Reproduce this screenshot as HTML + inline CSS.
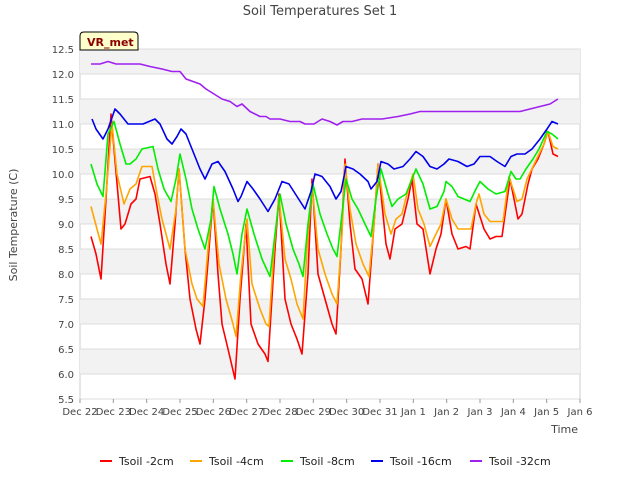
<!DOCTYPE html>
<html><head><meta charset="utf-8"><style>
body{margin:0;background:#fff;font-family:"Liberation Sans","DejaVu Sans",sans-serif;}
svg text{font-family:"DejaVu Sans","Liberation Sans",sans-serif;}
</style></head><body>
<svg id="chart" width="640" height="480" xmlns="http://www.w3.org/2000/svg">
<rect width="640" height="480" fill="#fff"/>
<text x="320" y="15" text-anchor="middle" font-size="13" fill="#444">Soil Temperatures Set 1</text>
<g id="bands"></g><g id="grid"></g><g id="series"></g><g id="axes"></g>
<text transform="translate(17,225) rotate(-90)" text-anchor="middle" font-size="11" fill="#444">Soil Temperature (C)</text>
<text x="578" y="433" text-anchor="end" font-size="11" fill="#444">Time</text>
<g>
<path d="M80,50 L80,36 Q80,32 84,32 L134,32 Q138,32 138,36 L138,50 Z" fill="#ffffcc" stroke="#000" stroke-width="1"/>
<text x="87" y="46" font-size="11" font-weight="bold" fill="#8b0000">VR_met</text>
</g>
<g id="legend"></g>
</svg>
<script>
const NS="http://www.w3.org/2000/svg";
const xTickLabels=["Dec 22","Dec 23","Dec 24","Dec 25","Dec 26","Dec 27","Dec 28","Dec 29","Dec 30","Dec 31","Jan 1","Jan 2","Jan 3","Jan 4","Jan 5","Jan 6"];
const yTicks=[5.5,6.0,6.5,7.0,7.5,8.0,8.5,9.0,9.5,10.0,10.5,11.0,11.5,12.0,12.5];
const seriesNames=["Tsoil -2cm","Tsoil -4cm","Tsoil -8cm","Tsoil -16cm","Tsoil -32cm"];
const seriesColors=["#ff0000","#ffa500","#00ee00","#0000ee","#a020f0"];
const t2=[.33,.48,.63,.78,.93,1.02,1.23,1.35,1.53,1.68,1.80,2.10,2.25,2.40,2.58,2.70,2.85,2.97,3.15,3.30,3.48,3.60,3.75,3.99,4.14,4.26,4.44,4.65,4.80,4.98,5.13,5.34,5.55,5.64,5.85,5.97,6.15,6.33,6.51,6.66,6.84,6.96,7.14,7.35,7.56,7.68,7.83,7.95,8.10,8.25,8.46,8.64,8.82,8.94,9.18,9.30,9.45,9.66,9.84,9.96,10.11,10.29,10.50,10.68,10.83,10.98,11.16,11.34,11.58,11.70,11.88,12.12,12.30,12.48,12.66,12.90,13.14,13.26,13.44,13.56,13.74,13.92,14.04,14.19,14.34];
const v2=[8.75,8.4,7.9,9.5,11.2,10.5,8.9,9.0,9.4,9.5,9.9,9.95,9.6,9.0,8.2,7.8,9.0,10.1,8.5,7.5,6.9,6.6,7.5,9.5,8.0,7.0,6.5,5.9,7.5,9.0,7.0,6.6,6.4,6.25,8.5,9.6,7.5,7.0,6.7,6.4,8.0,9.9,8.0,7.5,7.0,6.8,8.5,10.3,9.0,8.1,7.9,7.4,9.0,10.2,8.6,8.3,8.9,9.0,9.5,9.9,9.0,8.9,8.0,8.5,8.8,9.5,8.8,8.5,8.55,8.5,9.4,8.9,8.7,8.75,8.75,9.9,9.1,9.2,9.8,10.1,10.3,10.6,10.85,10.4,10.35];
const t4=[.33,.63,.78,.96,1.11,1.32,1.50,1.68,1.86,2.16,2.31,2.46,2.70,2.88,2.97,3.15,3.36,3.51,3.69,3.84,3.99,4.17,4.38,4.59,4.68,4.83,5.01,5.16,5.40,5.58,5.67,5.82,5.97,6.15,6.33,6.51,6.69,6.81,6.96,7.14,7.35,7.56,7.71,7.86,7.95,8.10,8.28,8.49,8.67,8.82,8.94,9.15,9.33,9.48,9.66,9.81,9.99,10.14,10.32,10.50,10.68,10.83,10.98,11.16,11.34,11.58,11.73,11.88,11.97,12.12,12.30,12.69,12.87,13.11,13.26,13.41,13.59,13.77,13.92,14.04,14.19,14.34];
const v4=[9.35,8.6,9.6,11.0,10.0,9.4,9.7,9.8,10.15,10.15,9.6,9.1,8.5,9.3,10.1,8.5,7.8,7.5,7.35,8.5,9.5,8.2,7.5,7.0,6.75,8.0,9.1,7.8,7.3,7.0,6.95,8.5,9.55,8.3,7.9,7.4,7.1,8.5,9.8,8.5,8.0,7.6,7.4,8.8,10.2,9.3,8.6,8.2,7.95,9.0,10.2,9.2,8.8,9.1,9.2,9.6,10.0,9.3,9.0,8.55,8.8,9.0,9.5,9.1,8.9,8.9,8.9,9.4,9.6,9.2,9.05,9.05,9.95,9.45,9.5,9.9,10.15,10.4,10.6,10.85,10.55,10.5];
const t8=[.33,.51,.69,.84,1.02,1.20,1.38,1.50,1.68,1.86,2.19,2.34,2.52,2.73,2.88,3.00,3.18,3.36,3.54,3.75,3.93,4.02,4.20,4.44,4.59,4.71,4.86,5.01,5.22,5.46,5.70,5.85,6.00,6.18,6.39,6.57,6.69,6.84,6.99,7.20,7.41,7.59,7.71,7.86,7.98,8.16,8.34,8.55,8.73,8.88,9.03,9.24,9.36,9.54,9.78,9.96,10.08,10.29,10.50,10.71,10.92,10.98,11.16,11.34,11.70,11.88,12.00,12.24,12.48,12.75,12.93,13.08,13.20,13.38,13.59,13.77,14.01,14.16,14.34];
const v8=[10.2,9.8,9.55,10.8,11.05,10.6,10.2,10.2,10.3,10.5,10.55,10.1,9.7,9.45,9.9,10.4,9.9,9.3,8.9,8.5,9.1,9.75,9.3,8.8,8.4,8.0,8.8,9.3,8.8,8.3,7.95,8.8,9.6,9.0,8.5,8.2,7.95,9.0,9.8,9.2,8.8,8.5,8.35,9.2,9.9,9.5,9.3,9.0,8.75,9.5,10.1,9.6,9.35,9.5,9.6,9.9,10.1,9.8,9.3,9.35,9.65,9.85,9.75,9.55,9.45,9.7,9.85,9.7,9.6,9.65,10.05,9.9,9.9,10.1,10.3,10.5,10.85,10.8,10.7];
const t16=[.36,.48,.69,.84,1.05,1.20,1.44,1.65,1.89,2.25,2.40,2.61,2.76,2.91,3.03,3.18,3.36,3.60,3.75,3.96,4.14,4.35,4.59,4.74,4.83,5.01,5.19,5.40,5.64,5.85,6.06,6.27,6.51,6.75,6.93,7.05,7.26,7.50,7.68,7.83,7.98,8.19,8.40,8.64,8.73,8.91,9.03,9.24,9.42,9.69,9.90,10.08,10.29,10.50,10.71,10.92,11.07,11.34,11.61,11.82,12.00,12.30,12.51,12.75,12.93,13.11,13.35,13.56,13.80,14.01,14.16,14.34];
const v16=[11.1,10.9,10.7,10.9,11.3,11.2,11.0,11.0,11.0,11.1,11.0,10.7,10.6,10.75,10.9,10.8,10.5,10.1,9.9,10.2,10.25,10.05,9.7,9.45,9.55,9.85,9.7,9.5,9.25,9.5,9.85,9.8,9.55,9.3,9.65,10.0,9.95,9.75,9.5,9.65,10.15,10.1,10.0,9.85,9.7,9.85,10.25,10.2,10.1,10.15,10.3,10.45,10.35,10.15,10.1,10.2,10.3,10.25,10.15,10.2,10.35,10.35,10.25,10.15,10.35,10.4,10.4,10.5,10.7,10.9,11.05,11.0];
const t32=[.33,.60,.84,1.08,1.44,1.80,2.10,2.46,2.76,3.00,3.18,3.39,3.60,3.78,4.02,4.26,4.50,4.71,4.86,5.10,5.40,5.58,5.70,5.85,6.00,6.30,6.60,6.75,7.02,7.26,7.50,7.71,7.89,8.16,8.46,8.76,9.06,9.54,9.90,10.20,10.80,11.40,12.00,12.60,13.20,13.50,13.80,14.10,14.34];
const v32=[12.2,12.2,12.25,12.2,12.2,12.2,12.15,12.1,12.05,12.05,11.9,11.85,11.8,11.7,11.6,11.5,11.45,11.35,11.4,11.25,11.15,11.15,11.1,11.1,11.1,11.05,11.05,11.0,11.0,11.1,11.05,10.98,11.05,11.05,11.1,11.1,11.1,11.15,11.2,11.25,11.25,11.25,11.25,11.25,11.25,11.3,11.35,11.4,11.5];
const seriesT=[t2,t4,t8,t16,t32], seriesV=[v2,v4,v8,v16,v32];

const X0=80,X1=580,Y0=399,Y1=49,YMIN=5.5,YMAX=12.5,DAYS=15;
const xs=d=>X0+(X1-X0)*d/DAYS;
const ys=v=>Y0-(Y0-Y1)*(v-YMIN)/(YMAX-YMIN);
function mk(tag,attrs,parent){const e=document.createElementNS(NS,tag);for(const k in attrs)e.setAttribute(k,attrs[k]);parent.appendChild(e);return e;}
const bands=document.getElementById('bands'),grid=document.getElementById('grid'),axes=document.getElementById('axes'),ser=document.getElementById('series'),leg=document.getElementById('legend');
mk('rect',{x:X0,y:Y1,width:X1-X0,height:Y0-Y1,fill:'#fff',stroke:'#ccc'},bands);
for(let i=0;i<yTicks.length-1;i++){
  if((yTicks.length-2-i)%2===0){
    const b=mk('rect',{x:X0,y:ys(yTicks[i+1]),width:X1-X0,height:ys(yTicks[i])-ys(yTicks[i+1]),fill:'#f2f2f2'},bands);
    
    
  }
}
yTicks.forEach(v=>{
  const l=mk('line',{x1:X0,x2:X1,y1:ys(v),y2:ys(v),stroke:'#dcdcdc'},grid);
  
  
  const t=mk('text',{x:X0-6,y:ys(v)+4,'text-anchor':'end','font-size':10,fill:'#444'},axes);
  t.textContent=v.toFixed(1);
  
  
});
xTickLabels.forEach((s,i)=>{
  const x=xs(i);
  mk('line',{x1:x,x2:x,y1:Y0,y2:Y0+4,stroke:'#999'},axes);
  const t=mk('text',{x:x,y:Y0+16,'text-anchor':'middle','font-size':10,fill:'#444'},axes);
  t.textContent=s;
  
  
});
seriesNames.forEach((n,k)=>{
  const T=seriesT[k],V=seriesV[k];
  const d=T.map((t,i)=>(i?'L':'M')+xs(t).toFixed(1)+','+ys(V[i]).toFixed(1)).join('');
  const p=mk('path',{d:d,fill:'none',stroke:seriesColors[k],'stroke-width':1.6,'stroke-linejoin':'round'},ser);
  
  
});
const legX=[100,190,281,371,470];
seriesNames.forEach((n,k)=>{
  const g=mk('g',{},leg);
  
  
  mk('line',{x1:legX[k],x2:legX[k]+12,y1:461,y2:461,stroke:seriesColors[k],'stroke-width':2},g);
  const t=mk('text',{x:legX[k]+19,y:465,'font-size':11,fill:'#222'},g);
  t.textContent=n;
});
</script>
</body></html>
